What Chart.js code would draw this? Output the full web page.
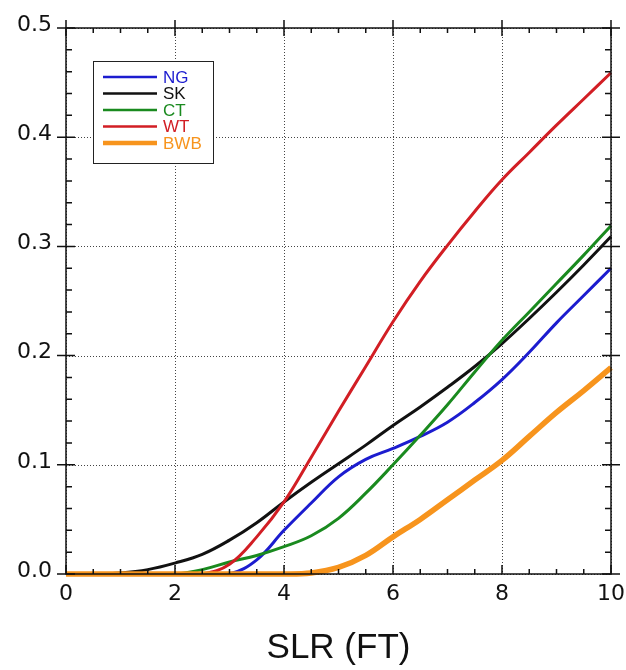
<!DOCTYPE html>
<html lang="en">
  <head>
    <meta charset="UTF-8" />
    <title>SLR (FT)</title>
    <script src="https://cdn.jsdelivr.net/npm/chart.js"></script>
    <style>
      body {
        margin: 0;
        background: #ffffff;
      }
    </style>
  </head>

  <body>
    <canvas id="myChart" width="626" height="670"></canvas>

    <script>
      // dados
      var slr = [0, 0.5, 1, 1.5, 2, 2.5, 3, 3.5, 4, 4.5, 5, 5.5, 6, 6.5, 7, 7.5, 8, 8.5, 9, 9.5, 10];

      var ng = [0, 0, 0, 0, 0, 0, 0, 0.013, 0.04, 0.065, 0.089, 0.105, 0.115, 0.126, 0.139, 0.157, 0.178, 0.203, 0.23, 0.255, 0.28];
      var sk = [0, 0, 0.001, 0.004, 0.01, 0.018, 0.031, 0.047, 0.066, 0.084, 0.101, 0.118, 0.136, 0.153, 0.171, 0.19, 0.211, 0.234, 0.258, 0.283, 0.309];
      var ct = [0, 0, 0, 0, 0, 0.004, 0.011, 0.017, 0.025, 0.035, 0.051, 0.074, 0.1, 0.127, 0.155, 0.185, 0.214, 0.24, 0.266, 0.292, 0.319];
      var wt = [0, 0, 0, 0, 0, 0, 0.009, 0.034, 0.066, 0.107, 0.149, 0.19, 0.231, 0.268, 0.301, 0.332, 0.361, 0.386, 0.411, 0.435, 0.459];
      var bwb = [0, 0, 0, 0, 0, 0, 0, 0, 0, 0.001, 0.006, 0.017, 0.034, 0.05, 0.068, 0.086, 0.104, 0.126, 0.148, 0.168, 0.189];

      var xTicks = [0, 2, 4, 6, 8, 10];
      var yTicks = [0, 0.1, 0.2, 0.3, 0.4, 0.5];
      var xMinor = 0.5;
      var yMinor = 0.02;

      function pontos(valores) {
        var lista = [];
        for (var i = 0; i < slr.length; i++) {
          lista.push({ x: slr[i], y: valores[i] });
        }
        return lista;
      }

      function serie(nome, valores, cor, largura, ordem) {
        return {
          label: nome,
          data: pontos(valores),
          borderColor: cor,
          backgroundColor: cor,
          borderWidth: largura,
          pointRadius: 0,
          fill: false,
          tension: 0.4,
          clip: 8,
          order: ordem,
        };
      }

      // grade pontilhada, moldura e marcas dos eixos
      const moldura = {
        id: "moldura",
        beforeDatasetsDraw(chart) {
          const ctx = chart.ctx;
          const a = chart.chartArea;
          const sx = chart.scales.x;
          const sy = chart.scales.y;
          ctx.save();
          ctx.strokeStyle = "#444";
          ctx.lineWidth = 1;
          ctx.setLineDash([1, 2]);
          ctx.beginPath();
          xTicks.forEach(function (v) {
            var p = Math.round(sx.getPixelForValue(v)) + 0.5;
            ctx.moveTo(p, a.top);
            ctx.lineTo(p, a.bottom);
          });
          yTicks.forEach(function (v) {
            var p = Math.round(sy.getPixelForValue(v)) + 0.5;
            ctx.moveTo(a.left, p);
            ctx.lineTo(a.right, p);
          });
          ctx.stroke();
          ctx.restore();
        },
        afterDatasetsDraw(chart) {
          const ctx = chart.ctx;
          const a = chart.chartArea;
          const sx = chart.scales.x;
          const sy = chart.scales.y;
          ctx.save();
          ctx.strokeStyle = "#111";
          ctx.lineWidth = 1.5;
          ctx.strokeRect(a.left, a.top, a.right - a.left, a.bottom - a.top);
          ctx.beginPath();
          // menores
          for (var v = 0; v <= 10.001; v += xMinor) {
            var p = sx.getPixelForValue(v);
            ctx.moveTo(p, a.top);
            ctx.lineTo(p, a.top + 5);
            ctx.moveTo(p, a.bottom);
            ctx.lineTo(p, a.bottom - 5);
          }
          for (var w = 0; w <= 0.5001; w += yMinor) {
            var q = sy.getPixelForValue(w);
            ctx.moveTo(a.left, q);
            ctx.lineTo(a.left + 6, q);
            ctx.moveTo(a.right, q);
            ctx.lineTo(a.right - 6, q);
          }
          // maiores
          xTicks.forEach(function (v) {
            var p = sx.getPixelForValue(v);
            ctx.moveTo(p, a.top - 8);
            ctx.lineTo(p, a.top + 8);
            ctx.moveTo(p, a.bottom);
            ctx.lineTo(p, a.bottom - 9);
          });
          yTicks.forEach(function (v) {
            var q = sy.getPixelForValue(v);
            ctx.moveTo(a.left - 9, q);
            ctx.lineTo(a.left + 9, q);
            ctx.moveTo(a.right + 9, q);
            ctx.lineTo(a.right - 9, q);
          });
          ctx.stroke();

          // legenda dentro do grafico
          var bx = a.left + 27;
          var by = a.top + 33;
          var bw = 120;
          var bh = 102;
          ctx.fillStyle = "#ffffff";
          ctx.fillRect(bx, by, bw, bh);
          ctx.lineWidth = 1;
          ctx.strokeStyle = "#222";
          ctx.strokeRect(bx + 0.5, by + 0.5, bw, bh);
          ctx.font = "17px 'Liberation Sans', Arial, sans-serif";
          ctx.textBaseline = "middle";
          ctx.textAlign = "left";
          var itens = chart.data.datasets;
          for (var i = 0; i < itens.length; i++) {
            var yy = by + 16 + i * 16.5;
            ctx.strokeStyle = itens[i].borderColor;
            ctx.lineWidth = i == 4 ? 4.5 : 2.7;
            ctx.beginPath();
            ctx.moveTo(bx + 10, yy);
            ctx.lineTo(bx + 64, yy);
            ctx.stroke();
            ctx.fillStyle = itens[i].borderColor;
            ctx.fillText(itens[i].label, bx + 70, yy + 1);
          }
          ctx.restore();
        },
      };

      const dados = {
        datasets: [
          serie("NG", ng, "#1c1ccf", 3, 3),
          serie("SK", sk, "#111111", 3, 4),
          serie("CT", ct, "#1a8a1f", 3, 2),
          serie("WT", wt, "#d21e24", 3, 1),
          serie("BWB", bwb, "#f7941d", 5.5, 0),
        ],
      };

      const config = {
        type: "line",
        data: dados,
        plugins: [moldura],
        options: {
          responsive: false,
          animation: false,
          layout: { padding: { top: 28, right: 0, left: 0, bottom: 0 } },
          plugins: {
            legend: { display: false },
            tooltip: { enabled: false },
          },
          scales: {
            x: {
              type: "linear",
              min: 0,
              max: 10,
              afterFit: function (s) {
                s.height = 96;
                s.paddingLeft = 0;
                s.paddingRight = 15;
              },
              afterBuildTicks: function (s) {
                s.ticks = xTicks.map(function (v) {
                  return { value: v };
                });
              },
              grid: { display: false, drawTicks: false },
              border: { display: false },
              ticks: {
                color: "#111",
                padding: 7,
                maxRotation: 0,
                font: { family: "'DejaVu Sans'", size: 22 },
              },
              title: {
                display: true,
                text: "SLR (FT)",
                color: "#111",
                padding: { top: 0, bottom: 1 },
                font: { family: "'Liberation Sans', Arial", size: 35 },
              },
            },
            y: {
              type: "linear",
              min: 0,
              max: 0.5,
              afterFit: function (s) {
                s.width = 66;
              },
              afterBuildTicks: function (s) {
                s.ticks = yTicks.map(function (v) {
                  return { value: v };
                });
              },
              grid: { display: false, drawTicks: false },
              border: { display: false },
              ticks: {
                color: "#111",
                padding: 14,
                labelOffset: -3,
                font: { family: "'DejaVu Sans'", size: 22 },
                callback: function (v) {
                  return Number(v).toFixed(1);
                },
              },
            },
          },
        },
      };

      var myChart = new Chart(document.getElementById("myChart"), config);
    </script>
  </body>
</html>
